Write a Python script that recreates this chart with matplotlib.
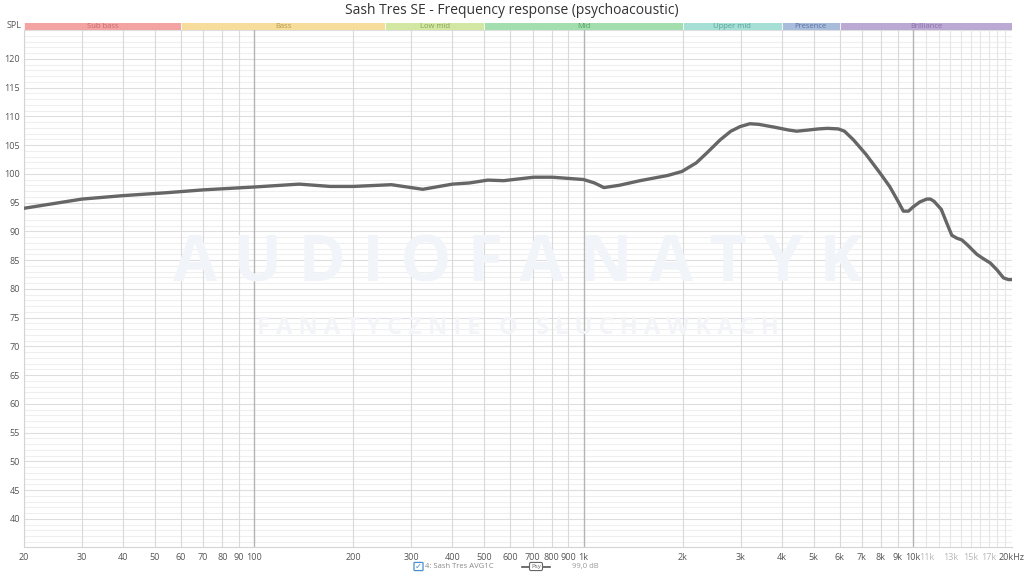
import matplotlib.pyplot as plt
import matplotlib.patches as mpatches
import numpy as np

plt.rcParams['font.family'] = ['Open Sans', 'DejaVu Sans']

# frequency response (Hz, dB SPL)
freq = [20, 30, 40, 54, 70, 100, 137, 170, 200, 261, 325, 400, 450, 512, 572,
        705, 805, 1000, 1080, 1153, 1285, 1484, 1800, 1990, 2200, 2366, 2600,
        2800, 2988, 3200, 3400, 3800, 4200, 4440, 4800, 5170, 5500, 5940, 6200,
        6600, 7200, 7955, 8500, 9000, 9357, 9700, 10000, 10500, 11020, 11300,
        11600, 12200, 12700, 13130, 13600, 14080, 14600, 15640, 16300, 17170,
        18000, 18840, 19500, 20000]
spl = [94.0, 95.6, 96.2, 96.7, 97.2, 97.7, 98.2, 97.8, 97.8, 98.1, 97.3, 98.2,
       98.4, 98.9, 98.8, 99.4, 99.4, 99.0, 98.4, 97.6, 98.0, 98.8, 99.7, 100.4,
       101.9, 103.6, 105.9, 107.4, 108.2, 108.7, 108.6, 108.1, 107.6, 107.4,
       107.6, 107.8, 107.9, 107.8, 107.4, 105.9, 103.4, 100.1, 97.8, 95.3,
       93.5, 93.5, 94.2, 95.1, 95.6, 95.6, 95.2, 93.8, 91.3, 89.3, 88.8, 88.5,
       87.7, 86.0, 85.3, 84.5, 83.3, 81.9, 81.6, 81.6]

bands = ['Sub bass', 'Bass', 'Low mid', 'Mid', 'Upper mid', 'Presence', 'Brilliance']
band_edges = [20, 60, 250, 500, 2000, 4000, 6000, 20000]
band_fill = ['#f4a3a3', '#f7dd9b', '#d2e8a2', '#a3deae', '#a6dfd6', '#a9bcdb', '#bba8d3']
band_text = ['#c86b6b', '#b89a4e', '#86a553', '#5aa56a', '#5aa49a', '#5c74a3', '#8a6fae']

xticks = [20, 30, 40, 50, 60, 70, 80, 90, 100, 200, 300, 400, 500, 600, 700, 800, 900,
          1000, 2000, 3000, 4000, 5000, 6000, 7000, 8000, 9000, 10000, 11000, 13000,
          15000, 17000, 20000]
xlabels = ['20', '30', '40', '50', '60', '70', '80', '90', '100', '200', '300', '400',
           '500', '600', '700', '800', '900', '1k', '2k', '3k', '4k', '5k', '6k', '7k',
           '8k', '9k', '10k', '11k', '13k', '15k', '17k', '20kHz']
yticks = list(range(40, 121, 5))

fig = plt.figure(figsize=(10.24, 5.73), dpi=100)
ax = fig.add_axes([24/1024, 26/573, 988/1024, 517/573])
ax.set_xscale('log')
ax.set_xlim(20, 20000)
ax.set_ylim(35.1, 125)

# grid
for y in range(36, 126):
    ax.axhline(y, color='#dedede' if y % 5 == 0 else '#efefef', lw=0.8, zorder=0)
vlines = [f for d in (10, 100, 1000) for f in np.arange(2, 10) * d] + \
         [10000 + 1000 * k for k in range(1, 10)]
for f in vlines:
    if f < 20 or f > 20000:
        continue
    c = '#e6e6e6' if f > 10000 else '#d9d9d9'
    ax.axvline(f, color=c, lw=0.8, zorder=0)
for f in (100, 1000, 10000):
    ax.axvline(f, color='#b4b4b4', lw=1.0, zorder=0)

# watermark
ax.text(0.5, 0.545, 'A U D I O F A N A T Y K', transform=ax.transAxes, ha='center',
        va='center', fontsize=46, fontweight='bold', color='#f1f4f9', zorder=1)
ax.text(0.5, 0.424, 'F A N A T Y C Z N I E   O   S Ł U C H A W K A C H',
        transform=ax.transAxes, ha='center', va='center', fontsize=17,
        fontweight='bold', color='#f2f4f8', zorder=1)

ax.plot(freq, spl, color='#666666', lw=2.4, solid_capstyle='round',
        solid_joinstyle='round', zorder=3)

ax.set_xticks(xticks)
ax.set_xticklabels(xlabels)
ax.minorticks_off()
for lab, f in zip(ax.get_xticklabels(), xticks):
    lab.set_color('#b8b8b8' if f in (11000, 13000, 15000, 17000) else '#555555')
ax.set_yticks(yticks)
ax.set_yticklabels([str(v) for v in yticks], color='#555555')
ax.tick_params(axis='both', length=0, labelsize=6.5, pad=4)
ax.tick_params(axis='y', pad=3)
for s in ax.spines.values():
    s.set_color('#d4d4d4')
    s.set_linewidth(0.8)
ax.spines['top'].set_visible(False)
ax.spines['right'].set_visible(False)

# frequency band strip
bax = fig.add_axes([24/1024, 543/573, 988/1024, 7/573])
bax.set_xscale('log')
bax.set_xlim(20, 20000)
bax.set_ylim(0, 1)
for i, name in enumerate(bands):
    lo, hi = band_edges[i], band_edges[i + 1]
    bax.axvspan(lo, hi, color=band_fill[i], lw=0)
    bax.axvline(lo, color='#ffffff', lw=0.6)
    bax.text(np.sqrt(lo * hi), 0.5, name, ha='center', va='center', fontsize=5.5,
             color=band_text[i])
bax.set_xticks([])
bax.set_yticks([])
bax.minorticks_off()
for s in bax.spines.values():
    s.set_visible(False)

fig.text(22/1024, 1 - 25/573, 'SPL', ha='right', va='center', fontsize=6.5, color='#555555')
fig.text(0.5, 1 - 11/573, 'Sash Tres SE - Frequency response (psychoacoustic)',
         ha='center', va='center', fontsize=10, color='#333333')

# legend row
fig.patches.append(mpatches.FancyBboxPatch((415/1024, 1 - 570/573), 7/1024, 7/573,
                   boxstyle='round,pad=0.001', transform=fig.transFigure,
                   fc='#ffffff', ec='#4a90d0', lw=0.9))
fig.text(418.5/1024, 1 - 566.5/573, '✓', ha='center', va='center', fontsize=6,
         color='#4a90d0', family=['DejaVu Sans'])
fig.text(425/1024, 1 - 566.5/573, '4: Sash Tres AVG1C', ha='left', va='center',
         fontsize=5.5, color='#888888')
fig.lines.append(plt.Line2D([522/1024, 550/1024], [1 - 566.5/573] * 2,
                 transform=fig.transFigure, color='#555555', lw=1.2))
fig.text(536/1024, 1 - 566.5/573, 'Psy', ha='center', va='center', fontsize=4.5,
         color='#666666', bbox=dict(boxstyle='round,pad=0.25', fc='white',
                                    ec='#666666', lw=0.8))
fig.text(572/1024, 1 - 566.5/573, '99,0 dB', ha='left', va='center',
         fontsize=5.5, color='#999999')

fig.savefig('out.png', dpi=100, facecolor='white')
